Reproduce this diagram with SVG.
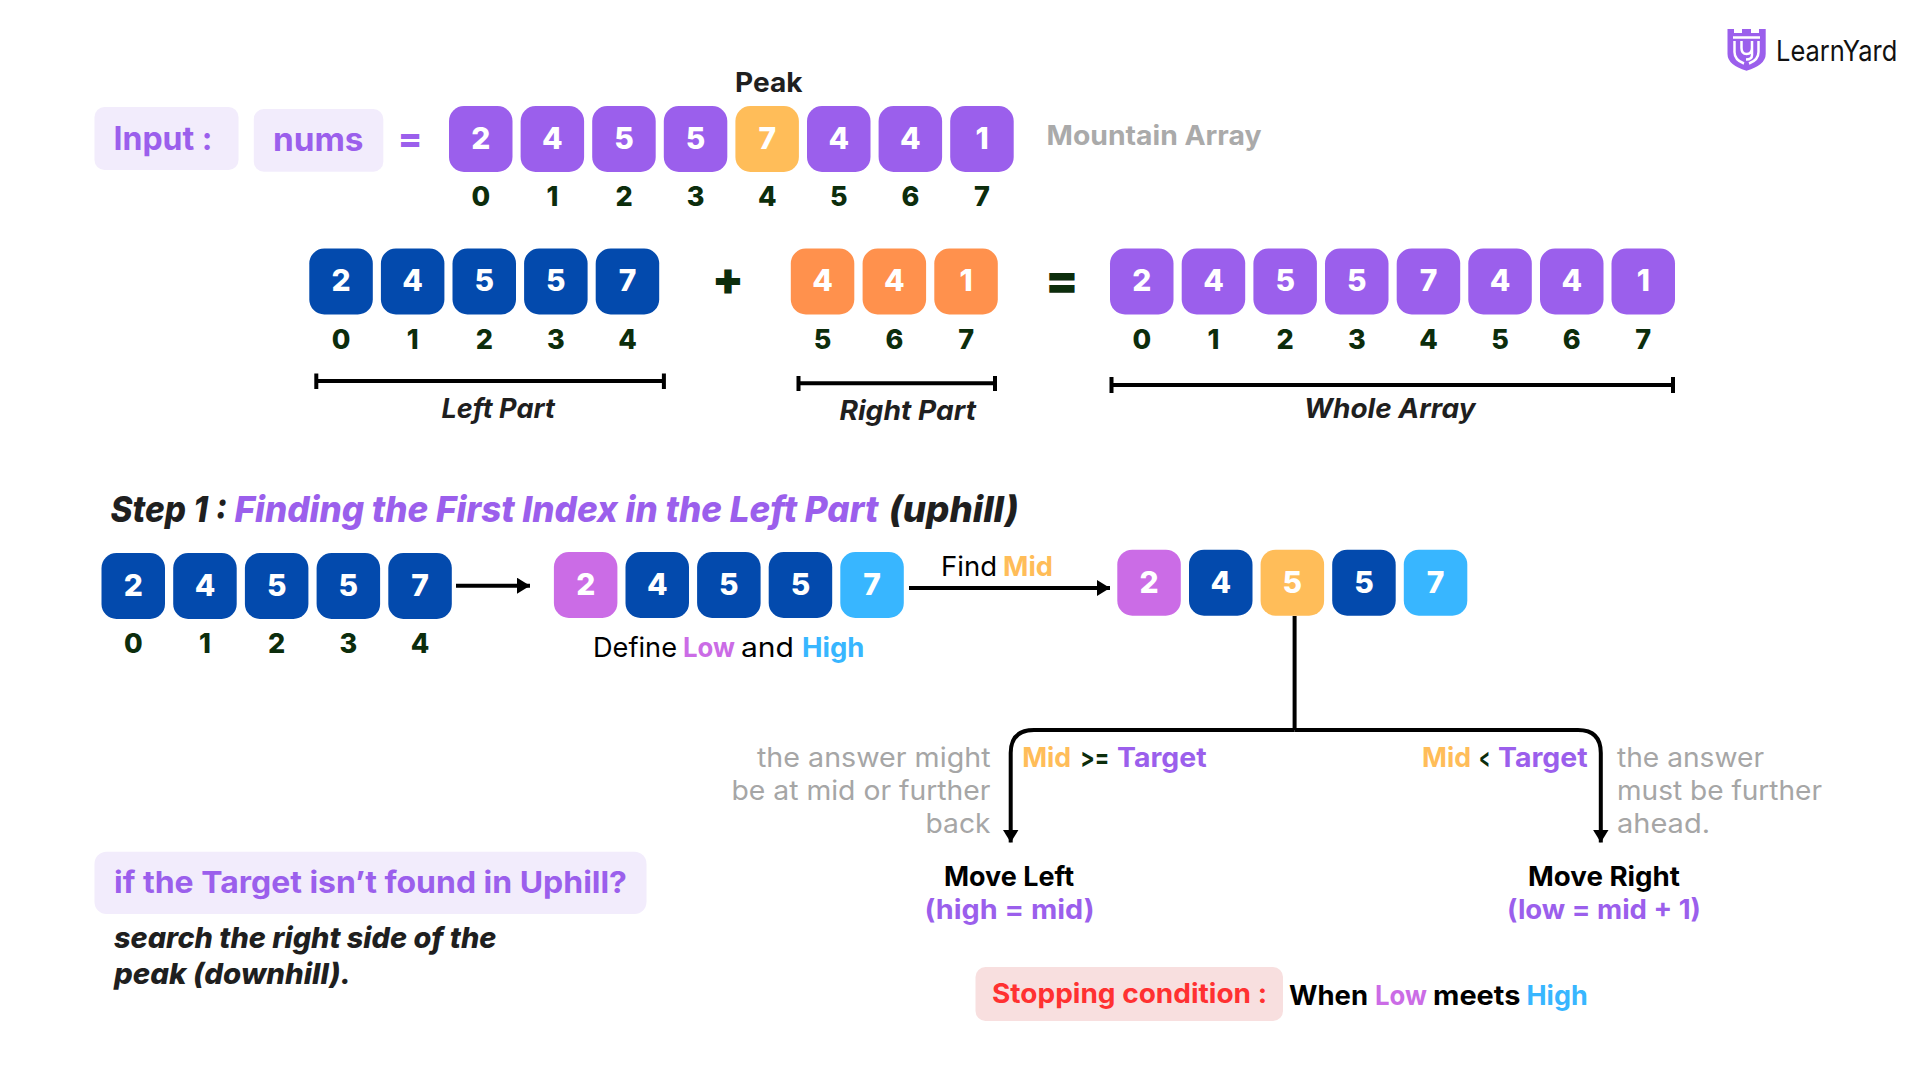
<svg xmlns="http://www.w3.org/2000/svg" width="1920" height="1080" viewBox="0 0 1920 1080">
<style>
text{font-family:Inter,"Open Sans","Liberation Sans",sans-serif}
.d{font-size:30px;font-weight:800;fill:#fff;text-anchor:middle}
.i{font-size:27px;font-weight:800;fill:#0c2d0c;text-anchor:middle}
.p{fill:#9b5fec}.bl{fill:#034aad}.o{fill:#ff914d}.m{fill:#ffbd59}.lo{fill:#cb6ce6}.hi{fill:#38b6ff}
.box{fill:#f2ecfc}
.lab{font-size:27px;font-weight:700;font-style:italic;fill:#1f1f1f}
.sb{font-size:27px;font-weight:700}
.re{font-size:27px;font-weight:400}
.g{font-size:27px;font-weight:400;fill:#a6a6a6}
.k{fill:#000}.dk{fill:#1f1f1f}
.h{font-size:36px;font-weight:800;font-style:italic}
.ln{fill:none;stroke:#000;stroke-width:4}
</style>
<defs>
<marker id="ah" markerUnits="userSpaceOnUse" markerWidth="14" markerHeight="18" refX="13" refY="8" orient="auto"><path d="M0 0L13 8L0 16Z" fill="#000"/></marker>
<rect id="c" width="63.5" height="66" rx="15"/>
</defs>

<g id="connectors">
<path class="ln" d="M316.3 381H663.9M316.3 373.5V389M663.9 373.5V389"/>
<path class="ln" d="M798.5 383.3H995M798.5 376V391M995 376V391"/>
<path class="ln" d="M1111.5 385H1673M1111.5 377V393M1673 377V393"/>
<path class="ln" d="M456 585.7H530" marker-end="url(#ah)"/>
<path class="ln" d="M909 588H1110" marker-end="url(#ah)"/>
<path class="ln" d="M1294.6 616V730"/>
<path class="ln" d="M1294.6 730H1034Q1010.7 730 1010.7 753V842.5" marker-end="url(#ah)"/>
<path class="ln" d="M1294.6 730H1578Q1600.8 730 1600.8 753V842.5" marker-end="url(#ah)"/>
</g>

<g id="logo">
<path d="M1727.5 29H1734V33H1742V29H1751V33H1759V29H1765.7V54Q1765.7 65 1746.5 70.7Q1727.5 65 1727.5 54Z" fill="#9b5fec"/>
<path d="M1733 37.5H1760" stroke="#fff" stroke-width="2.5" fill="none"/>
<path d="M1734.5 41V52Q1734.5 60 1744 63.5M1758.5 41V52Q1758.5 60 1749 63.5" stroke="#fff" stroke-width="2.5" fill="none"/>
<path d="M1741.5 41V48Q1741.5 54 1746.5 54Q1752 54 1752 48V41M1752 48V55Q1752 59.5 1746 59.5" stroke="#fff" stroke-width="2.5" fill="none"/>
<text x="1776" y="61" font-size="29" fill="#111" textLength="121.3" lengthAdjust="spacingAndGlyphs">LearnYard</text>
</g>

<g id="input"><rect class="box" x="94.5" y="107" width="144" height="63" rx="10"/><text class="sb p" style="font-size:32px" x="113.5" y="149.5" textLength="99" lengthAdjust="spacingAndGlyphs">Input :</text></g>
<g id="nums"><rect class="box" x="253.8" y="109" width="129.5" height="62.7" rx="10"/><text class="sb p" style="font-size:32px" x="273" y="151" textLength="90.5" lengthAdjust="spacingAndGlyphs">nums</text></g>
<g id="eq1"><text class="p" font-weight="800" font-size="36" x="410" y="151" text-anchor="middle">=</text></g>
<g id="peak"><text class="sb dk" x="735" y="92" textLength="67.5" lengthAdjust="spacingAndGlyphs">Peak</text></g>
<g id="mountain"><text class="sb" fill="#aaa" x="1046.5" y="145" textLength="215" lengthAdjust="spacingAndGlyphs">Mountain Array</text></g>

<g id="r1c0"><use href="#c" class="p" x="449" y="106"/><text class="d" x="480.8" y="149.3">2</text><text class="i" x="480.8" y="205.7">0</text></g>
<g id="r1c1"><use href="#c" class="p" x="520.6" y="106"/><text class="d" x="552.4" y="149.3">4</text><text class="i" x="552.4" y="205.7">1</text></g>
<g id="r1c2"><use href="#c" class="p" x="592.2" y="106"/><text class="d" x="624" y="149.3">5</text><text class="i" x="624" y="205.7">2</text></g>
<g id="r1c3"><use href="#c" class="p" x="663.8" y="106"/><text class="d" x="695.6" y="149.3">5</text><text class="i" x="695.6" y="205.7">3</text></g>
<g id="r1c4"><use href="#c" class="m" x="735.4" y="106"/><text class="d" x="767.2" y="149.3">7</text><text class="i" x="767.2" y="205.7">4</text></g>
<g id="r1c5"><use href="#c" class="p" x="807" y="106"/><text class="d" x="838.8" y="149.3">4</text><text class="i" x="838.8" y="205.7">5</text></g>
<g id="r1c6"><use href="#c" class="p" x="878.6" y="106"/><text class="d" x="910.4" y="149.3">4</text><text class="i" x="910.4" y="205.7">6</text></g>
<g id="r1c7"><use href="#c" class="p" x="950.2" y="106"/><text class="d" x="982" y="149.3">1</text><text class="i" x="982" y="205.7">7</text></g>

<g id="r2c0"><use href="#c" class="bl" x="309.3" y="248.5"/><text class="d" x="341.1" y="291">2</text><text class="i" x="341.1" y="349">0</text></g>
<g id="r2c1"><use href="#c" class="bl" x="380.9" y="248.5"/><text class="d" x="412.7" y="291">4</text><text class="i" x="412.7" y="349">1</text></g>
<g id="r2c2"><use href="#c" class="bl" x="452.5" y="248.5"/><text class="d" x="484.3" y="291">5</text><text class="i" x="484.3" y="349">2</text></g>
<g id="r2c3"><use href="#c" class="bl" x="524.1" y="248.5"/><text class="d" x="555.9" y="291">5</text><text class="i" x="555.9" y="349">3</text></g>
<g id="r2c4"><use href="#c" class="bl" x="595.7" y="248.5"/><text class="d" x="627.5" y="291">7</text><text class="i" x="627.5" y="349">4</text></g>
<g id="plus"><text x="728" y="295" font-size="46" font-weight="900" fill="#0c2d0c" text-anchor="middle">+</text></g>
<g id="r2c5"><use href="#c" class="o" x="790.8" y="248.5"/><text class="d" x="822.6" y="291">4</text><text class="i" x="822.6" y="349">5</text></g>
<g id="r2c6"><use href="#c" class="o" x="862.6" y="248.5"/><text class="d" x="894.4" y="291">4</text><text class="i" x="894.4" y="349">6</text></g>
<g id="r2c7"><use href="#c" class="o" x="934.3" y="248.5"/><text class="d" x="966.1" y="291">1</text><text class="i" x="966.1" y="349">7</text></g>
<g id="eq2"><text x="1062" y="296.5" font-size="48" font-weight="900" fill="#0c2d0c" text-anchor="middle">=</text></g>
<g id="r2c8"><use href="#c" class="p" x="1110" y="248.5"/><text class="d" x="1141.8" y="291">2</text><text class="i" x="1141.8" y="349">0</text></g>
<g id="r2c9"><use href="#c" class="p" x="1181.7" y="248.5"/><text class="d" x="1213.5" y="291">4</text><text class="i" x="1213.5" y="349">1</text></g>
<g id="r2c10"><use href="#c" class="p" x="1253.4" y="248.5"/><text class="d" x="1285.2" y="291">5</text><text class="i" x="1285.2" y="349">2</text></g>
<g id="r2c11"><use href="#c" class="p" x="1325" y="248.5"/><text class="d" x="1356.8" y="291">5</text><text class="i" x="1356.8" y="349">3</text></g>
<g id="r2c12"><use href="#c" class="p" x="1396.7" y="248.5"/><text class="d" x="1428.5" y="291">7</text><text class="i" x="1428.5" y="349">4</text></g>
<g id="r2c13"><use href="#c" class="p" x="1468.3" y="248.5"/><text class="d" x="1500.1" y="291">4</text><text class="i" x="1500.1" y="349">5</text></g>
<g id="r2c14"><use href="#c" class="p" x="1540" y="248.5"/><text class="d" x="1571.8" y="291">4</text><text class="i" x="1571.8" y="349">6</text></g>
<g id="r2c15"><use href="#c" class="p" x="1611.5" y="248.5"/><text class="d" x="1643.3" y="291">1</text><text class="i" x="1643.3" y="349">7</text></g>

<g id="part-labels">
<text class="lab" x="441.5" y="417.5" textLength="113.5" lengthAdjust="spacingAndGlyphs">Left Part</text>
<text class="lab" x="839.5" y="420" textLength="136.5" lengthAdjust="spacingAndGlyphs">Right Part</text>
<text class="lab" x="1304" y="417.5" textLength="171.5" lengthAdjust="spacingAndGlyphs">Whole Array</text>
</g>

<g id="step-title">
<text class="h dk" x="110.5" y="522" textLength="116.5" lengthAdjust="spacingAndGlyphs">Step 1 :</text>
<text class="h p" x="234.5" y="522" textLength="644" lengthAdjust="spacingAndGlyphs">Finding the First Index in the Left Part</text>
<text class="h dk" x="888.7" y="522" textLength="130" lengthAdjust="spacingAndGlyphs">(uphill)</text>
</g>

<g id="r3c0"><use href="#c" class="bl" x="101.5" y="553"/><text class="d" x="133.3" y="595.5">2</text><text class="i" x="133.3" y="653.3">0</text></g>
<g id="r3c1"><use href="#c" class="bl" x="173.2" y="553"/><text class="d" x="205" y="595.5">4</text><text class="i" x="205" y="653.3">1</text></g>
<g id="r3c2"><use href="#c" class="bl" x="244.9" y="553"/><text class="d" x="276.7" y="595.5">5</text><text class="i" x="276.7" y="653.3">2</text></g>
<g id="r3c3"><use href="#c" class="bl" x="316.6" y="553"/><text class="d" x="348.4" y="595.5">5</text><text class="i" x="348.4" y="653.3">3</text></g>
<g id="r3c4"><use href="#c" class="bl" x="388.3" y="553"/><text class="d" x="420.1" y="595.5">7</text><text class="i" x="420.1" y="653.3">4</text></g>

<g id="r4c0"><use href="#c" class="lo" x="553.9" y="552"/><text class="d" x="585.7" y="594.7">2</text></g>
<g id="r4c1"><use href="#c" class="bl" x="625.5" y="552"/><text class="d" x="657.3" y="594.7">4</text></g>
<g id="r4c2"><use href="#c" class="bl" x="697.1" y="552"/><text class="d" x="728.9" y="594.7">5</text></g>
<g id="r4c3"><use href="#c" class="bl" x="768.7" y="552"/><text class="d" x="800.5" y="594.7">5</text></g>
<g id="r4c4"><use href="#c" class="hi" x="840.3" y="552"/><text class="d" x="872.1" y="594.7">7</text></g>

<g id="define">
<text class="re k" x="593" y="657" textLength="84" lengthAdjust="spacingAndGlyphs">Define</text>
<text class="sb lo" x="683" y="657" textLength="52" lengthAdjust="spacingAndGlyphs">Low</text>
<text class="re k" x="741" y="657" textLength="53" lengthAdjust="spacingAndGlyphs">and</text>
<text class="sb hi" x="802" y="657" textLength="62.4" lengthAdjust="spacingAndGlyphs">High</text>
</g>
<g id="findmid">
<text class="re k" x="941" y="576" textLength="56" lengthAdjust="spacingAndGlyphs">Find</text>
<text class="sb m" x="1003" y="576" textLength="50" lengthAdjust="spacingAndGlyphs">Mid</text>
</g>

<g id="r5c0"><use href="#c" class="lo" x="1117.3" y="549.7"/><text class="d" x="1149.1" y="592.5">2</text></g>
<g id="r5c1"><use href="#c" class="bl" x="1189" y="549.7"/><text class="d" x="1220.8" y="592.5">4</text></g>
<g id="r5c2"><use href="#c" class="m" x="1260.6" y="549.7"/><text class="d" x="1292.4" y="592.5">5</text></g>
<g id="r5c3"><use href="#c" class="bl" x="1332.2" y="549.7"/><text class="d" x="1364" y="592.5">5</text></g>
<g id="r5c4"><use href="#c" class="hi" x="1403.8" y="549.7"/><text class="d" x="1435.6" y="592.5">7</text></g>

<g id="left-note">
<text class="g" text-anchor="end" x="990.5" y="766.5" textLength="233.5" lengthAdjust="spacingAndGlyphs">the answer might</text>
<text class="g" text-anchor="end" x="990.5" y="799.5" textLength="259" lengthAdjust="spacingAndGlyphs">be at mid or further</text>
<text class="g" text-anchor="end" x="990.5" y="832.5" textLength="65" lengthAdjust="spacingAndGlyphs">back</text>
</g>
<g id="right-note">
<text class="g" x="1617" y="766.5" textLength="147" lengthAdjust="spacingAndGlyphs">the answer</text>
<text class="g" x="1617" y="799.5" textLength="205" lengthAdjust="spacingAndGlyphs">must be further</text>
<text class="g" x="1617" y="832.5" textLength="93" lengthAdjust="spacingAndGlyphs">ahead.</text>
</g>
<g id="cond-left">
<text class="sb m" x="1022.2" y="766.5" textLength="49" lengthAdjust="spacingAndGlyphs">Mid</text>
<text class="sb" fill="#0c2d0c" x="1080.3" y="766.5" textLength="29" lengthAdjust="spacingAndGlyphs">&gt;=</text>
<text class="sb p" x="1117" y="766.5" textLength="89.6" lengthAdjust="spacingAndGlyphs">Target</text>
</g>
<g id="cond-right">
<text class="sb m" x="1422" y="766.5" textLength="49" lengthAdjust="spacingAndGlyphs">Mid</text>
<text class="sb" fill="#0c2d0c" x="1479" y="766.5" textLength="11" lengthAdjust="spacingAndGlyphs">&lt;</text>
<text class="sb p" x="1498" y="766.5" textLength="89.7" lengthAdjust="spacingAndGlyphs">Target</text>
</g>
<g id="move-left">
<text class="sb k" x="944" y="886" textLength="130" lengthAdjust="spacingAndGlyphs">Move Left</text>
<text class="sb p" x="924.5" y="918.5" textLength="170" lengthAdjust="spacingAndGlyphs">(high = mid)</text>
</g>
<g id="move-right">
<text class="sb k" x="1528" y="886" textLength="152" lengthAdjust="spacingAndGlyphs">Move Right</text>
<text class="sb p" x="1507" y="918.5" textLength="194" lengthAdjust="spacingAndGlyphs">(low = mid + 1)</text>
</g>
<g id="stopping">
<rect x="975.5" y="967" width="307.5" height="54" rx="10" fill="#f8dfdf"/>
<text class="sb" fill="#ff3131" x="992" y="1003" textLength="275" lengthAdjust="spacingAndGlyphs">Stopping condition :</text>
</g>
<g id="when">
<text class="sb k" x="1289" y="1005" textLength="79" lengthAdjust="spacingAndGlyphs">When</text>
<text class="sb lo" x="1375" y="1005" textLength="52" lengthAdjust="spacingAndGlyphs">Low</text>
<text class="sb k" x="1433" y="1005" textLength="87.4" lengthAdjust="spacingAndGlyphs">meets</text>
<text class="sb hi" x="1526.5" y="1005" textLength="61.2" lengthAdjust="spacingAndGlyphs">High</text>
</g>
<g id="target-note">
<rect class="box" x="94.5" y="851.7" width="552" height="62.3" rx="12"/>
<text class="sb p" style="font-size:30px" x="114" y="893" textLength="513" lengthAdjust="spacingAndGlyphs">if the Target isn’t found in Uphill?</text>
</g>
<g id="search-note">
<text class="lab" style="font-weight:800;font-size:29px" x="114" y="948" textLength="382.5" lengthAdjust="spacingAndGlyphs">search the right side of the</text>
<text class="lab" style="font-weight:800;font-size:29px" x="114" y="984" textLength="237" lengthAdjust="spacingAndGlyphs">peak (downhill).</text>
</g>
</svg>
